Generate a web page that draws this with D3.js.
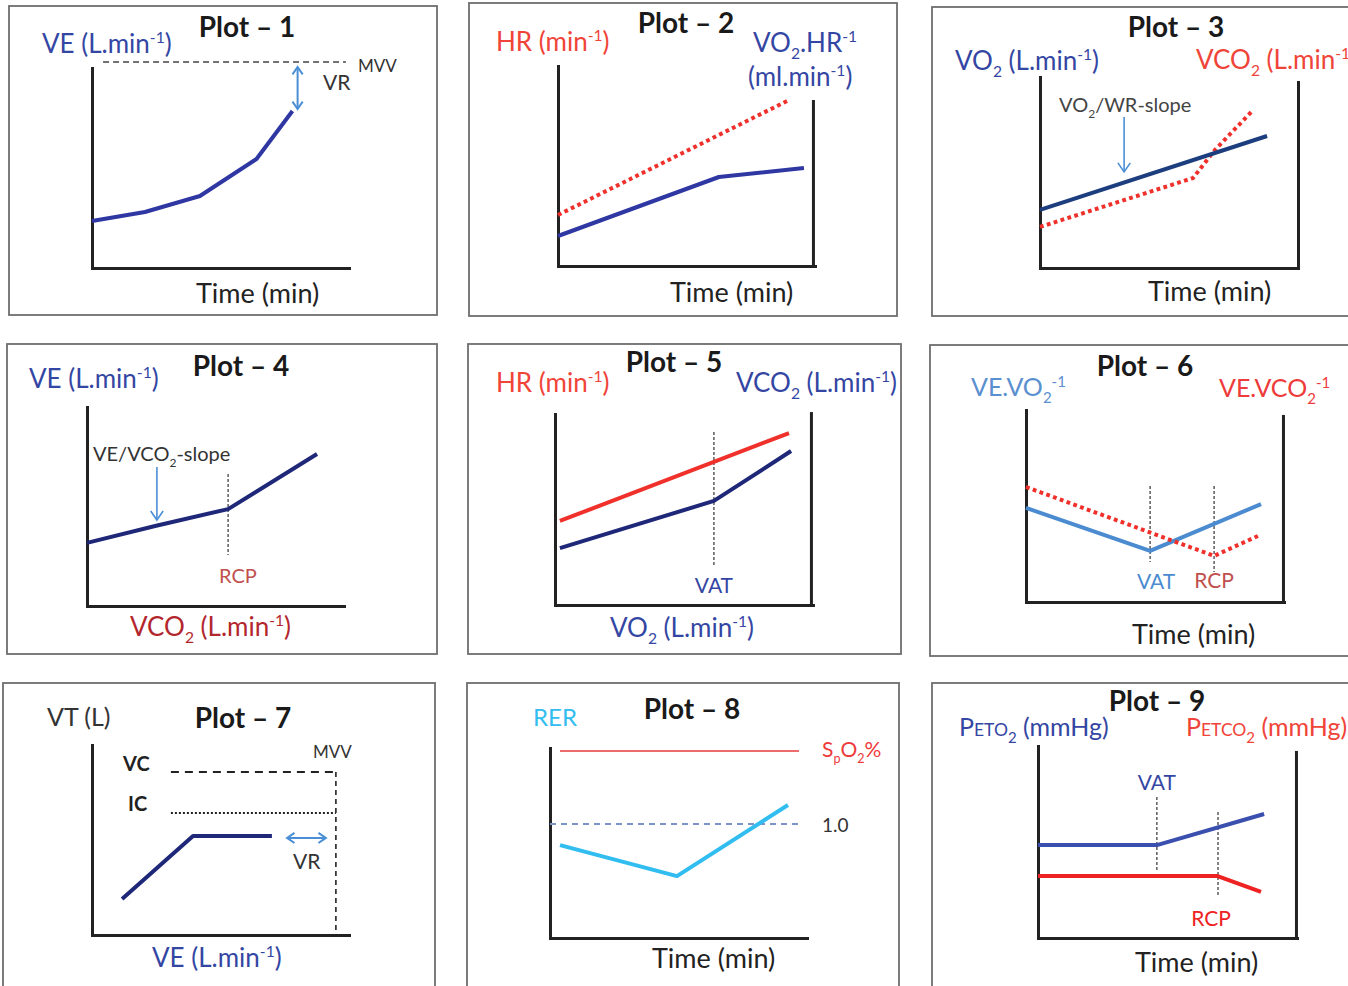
<!DOCTYPE html>
<html><head><meta charset="utf-8">
<script src="https://cdn.jsdelivr.net/npm/d3@7"></script>
<style>body{margin:0;background:#fff} svg{display:block}</style>
</head><body>
<svg id="c" width="1348" height="986"></svg>
<script>
// ---------------- DATA (schematic units 0-100 on each axis) ----------------
const titles = ["Plot \u2013 1","Plot \u2013 2","Plot \u2013 3","Plot \u2013 4","Plot \u2013 5","Plot \u2013 6","Plot \u2013 7","Plot \u2013 8","Plot \u2013 9"];
// Plot 1
const p1VE  = [[0,23.5],[20.6,28],[42,36],[64,54.5],[78,78.5]];
const p1MVV = [[4.3,103],[98.8,103]];
const p1VR  = [[80,100.5],[80,79.5]];
// Plot 2
const p2HR    = [[0,25.5],[89.9,83]];
const p2VO2HR = [[0,15],[62.6,44.5],[95.7,49]];
// Plot 3
const p3VO2  = [[0,30.4],[88,69.1]];
const p3VCO2 = [[0,21.5],[59.3,47.1],[67.8,61.8],[82.6,82.7]];
const p3Arrow = [[32.6,79],[32.6,50.3]];
// Plot 4
const p4VE    = [[0,31.7],[26.5,40.2],[54.9,48.7],[89.5,76.4]];
const p4RCP   = [[54.9,66.3],[54.9,25.6]];
const p4Arrow = [[27.2,69.8],[27.2,43.2]];
// Plot 5
const p5HR   = [[1.9,44],[90.7,90]];
const p5VCO2 = [[1.9,29.8],[61.6,54.5],[91.5,80.6]];
const p5VAT  = [[61.6,90.6],[61.6,20.9]];
// Plot 6
const p6VEVO2  = [[0,49],[48.1,26.6],[91.1,51]];
const p6VEVCO2 = [[0,59.9],[72.9,24],[89.9,34.4]];
const p6VAT = [[48.1,60.4],[48.1,20.8]];
const p6RCP = [[72.9,60.4],[72.9,15.6]];
// Plot 7
const p7VT  = [[11.7,18.9],[39.3,52.1],[70,52.1]];
const p7VC  = [[30.7,85.8],[94.9,85.8]];
const p7IC  = [[30.7,64.2],[94.9,64.2]];
const p7MVV = [[94.9,85.8],[94.9,0]];
const p7VR  = [[75.9,51.1],[91,51.1]];
// Plot 8
const p8SpO2 = [[3.9,98.4],[96.9,98.4]];
const p8One  = [[0,60],[98,60]];
const p8RER  = [[3.9,48.9],[49.4,32.6],[92.6,70]];
// Plot 9
const p9PETO2  = [[0,48.4],[45.9,48.4],[87.3,64.6]];
const p9PETCO2 = [[0,32.3],[69.1,32.3],[86.1,24]];
const p9VAT = [[45.9,73.4],[45.9,34.4]];
const p9RCP = [[69.5,65.6],[69.5,21.4]];

// ---------------- LAYOUT ----------------
const layout = [
  {frame:[9,6,437,315],    x0:92,  x1:349,  yTop:68,  yBot:268},
  {frame:[469,3,897,316],  x0:558, x1:815,  yTop:66,  yBot:266, right:[99.2,82.5]},
  {frame:[932,7,1360,316], x0:1040,x1:1298, yTop:77,  yBot:268, right:[100,97.4]},
  {frame:[7,344,437,654],  x0:87,  x1:344,  yTop:407, yBot:606},
  {frame:[468,344,901,654],x0:555, x1:813,  yTop:414, yBot:605, right:[99.2,100.5]},
  {frame:[930,345,1360,656],x0:1026,x1:1284,yTop:410, yBot:602, right:[99.6,96.9]},
  {frame:[3,683,435,1000], x0:92,  x1:349,  yTop:745, yBot:935},
  {frame:[467,683,899,1000],x0:550,x1:807,  yTop:748, yBot:938},
  {frame:[932,683,1360,1000],x0:1038,x1:1297,yTop:746,yBot:938, right:[99.6,96.9]}
];
const FONT = "Lato, 'Open Sans', sans-serif";
const C = {
  blue:"#2f37a3", navy:"#1f2878", dkblue:"#1d3e7e", lblue:"#4b8bd0", red:"#f0302a",
  labBlue:"#3446a3", labRed:"#f04438", rcp:"#c0504d", cyan:"#31bdf0", arrow:"#4a8fd6"
};
const LAB = 26, TIME = 27, TITLE = 28;

const svg = d3.select("#c").style("font-family", FONT);

function rich(g, x, y, str, o) {
  const size = o.size || LAB;
  const t = g.append("text").attr("x", x).attr("y", y)
    .attr("font-size", size).attr("fill", o.color || "#222")
    .attr("font-weight", o.weight || 400)
    .attr("text-anchor", o.anchor || "start");
  const parts = str.split(/(\^\{[^}]*\}|_\{[^}]*\}|~\{[^}]*\})/).filter(s => s.length);
  let shift = 0;
  parts.forEach(p => {
    let txt = p, fs = size, target = 0;
    if (p.startsWith("^{")) { txt = p.slice(2,-1); fs = size*0.6; target = -size*0.38; }
    else if (p.startsWith("_{")) { txt = p.slice(2,-1); fs = size*0.6; target = size*0.28; }
    else if (p.startsWith("~{")) { txt = p.slice(2,-1); fs = size*0.7; target = 0; }
    t.append("tspan").attr("dy", target - shift).attr("font-size", fs).text(txt);
    shift = target;
  });
  return t;
}

function makePanel(L, i) {
  const g = svg.append("g");
  const x = d3.scaleLinear([0,100],[L.x0, L.x1]);
  const y = d3.scaleLinear([0,100],[L.yBot, L.yTop]);
  const [l,t,r,b] = L.frame;
  g.append("rect").attr("x",l).attr("y",t).attr("width",r-l).attr("height",b-t)
    .attr("fill","none").attr("stroke","#6e6e6e").attr("stroke-width",1.8);
  const ax = g.append("g");
  ax.append("g").attr("transform",`translate(${L.x0},0)`)
    .call(d3.axisLeft(y).ticks(0).tickSizeOuter(0));
  ax.append("g").attr("transform",`translate(0,${L.yBot})`)
    .call(d3.axisBottom(x).ticks(0).tickSizeOuter(0));
  if (L.right) {
    const ry = d3.scaleLinear([0, L.right[1]], [L.yBot, y(L.right[1])]);
    ax.append("g").attr("transform",`translate(${x(L.right[0])},0)`)
      .call(d3.axisRight(ry).ticks(0).tickSizeOuter(0));
  }
  ax.selectAll(".domain").attr("stroke","#222").attr("stroke-width",3).attr("stroke-linecap","square");
  return {g, x, y};
}

function line(P, data, color, w, dash, cap) {
  const gen = d3.line().x(d => P.x(d[0])).y(d => P.y(d[1]));
  P.g.append("path").datum(data).attr("d", gen).attr("fill","none")
    .attr("stroke", color).attr("stroke-width", w)
    .attr("stroke-dasharray", dash || null)
    .attr("stroke-linejoin","round")
    .attr("stroke-linecap", cap || "butt");
}

function arrow(P, data, color, w, both, hl) {
  const a = [P.x(data[0][0]), P.y(data[0][1])], b = [P.x(data[1][0]), P.y(data[1][1])];
  P.g.append("line").attr("x1",a[0]).attr("y1",a[1]).attr("x2",b[0]).attr("y2",b[1])
    .attr("stroke",color).attr("stroke-width",w);
  const head = (tip, from) => {
    const ang = Math.atan2(tip[1]-from[1], tip[0]-from[0]);
    const s = 0.6;
    const p1 = [tip[0]-hl*Math.cos(ang-s), tip[1]-hl*Math.sin(ang-s)];
    const p2 = [tip[0]-hl*Math.cos(ang+s), tip[1]-hl*Math.sin(ang+s)];
    P.g.append("path").attr("d", d3.line()([p1, tip, p2])).attr("fill","none")
      .attr("stroke",color).attr("stroke-width",w).attr("stroke-linejoin","miter");
  };
  head(b, a);
  if (both) head(a, b);
}

const P = layout.map(makePanel);
const dotted = "3.8,3.4", vmark = "3,2";

// titles
const titlePos = [[247,37],[686,33],[1176,37],[241,376],[674,372],[1145,376],[243,728],[692,719],[1157,711]];
titles.forEach((s,i) => rich(P[i].g, titlePos[i][0], titlePos[i][1], s, {size:TITLE, weight:700, anchor:"middle", color:"#1a1a1a"}));

// ---- Plot 1
line(P[0], p1MVV, "#444", 1.5, "6,4");
line(P[0], p1VE, C.blue, 4);
arrow(P[0], p1VR, C.arrow, 2, true, 9);
rich(P[0].g, 42, 53, "VE (L.min^{-1})", {color:C.labBlue});
rich(P[0].g, 358, 72, "MVV", {size:17, color:"#333"});
rich(P[0].g, 323, 90, "VR", {size:21, color:"#333"});
rich(P[0].g, 196, 303, "Time (min)", {size:TIME});

// ---- Plot 2
line(P[1], p2HR, C.red, 4, dotted);
line(P[1], p2VO2HR, C.blue, 4);
rich(P[1].g, 496, 51, "HR (min^{-1})", {color:C.labRed});
rich(P[1].g, 753, 52, "VO_{2}.HR^{-1}", {color:C.labBlue});
rich(P[1].g, 748, 86, "(ml.min^{-1})", {color:C.labBlue});
rich(P[1].g, 670, 302, "Time (min)", {size:TIME});

// ---- Plot 3
line(P[2], p3VCO2, C.red, 4, dotted);
line(P[2], p3VO2, C.dkblue, 4);
arrow(P[2], p3Arrow, C.arrow, 1.6, false, 11);
rich(P[2].g, 955, 70, "VO_{2} (L.min^{-1})", {color:C.labBlue});
rich(P[2].g, 1196, 69, "VCO_{2} (L.min^{-1})", {color:C.labRed});
rich(P[2].g, 1059, 112, "VO_{2}/WR-slope", {size:20, color:"#444"});
rich(P[2].g, 1148, 301, "Time (min)", {size:TIME});

// ---- Plot 4
line(P[3], p4RCP, "#333", 1.2, vmark);
line(P[3], p4VE, C.navy, 4);
arrow(P[3], p4Arrow, C.arrow, 1.6, false, 11);
rich(P[3].g, 29, 388, "VE (L.min^{-1})", {color:C.labBlue});
rich(P[3].g, 93, 461, "VE/VCO_{2}-slope", {size:20, color:"#333"});
rich(P[3].g, 238, 583, "RCP", {size:20, color:C.rcp, anchor:"middle"});
rich(P[3].g, 130, 636, "VCO_{2} (L.min^{-1})", {color:"#b3262d"});

// ---- Plot 5
line(P[4], p5VAT, "#333", 1.2, vmark);
line(P[4], p5HR, C.red, 4);
line(P[4], p5VCO2, C.navy, 4);
rich(P[4].g, 496, 392, "HR (min^{-1})", {color:C.labRed});
rich(P[4].g, 736, 392, "VCO_{2} (L.min^{-1})", {color:C.labBlue});
rich(P[4].g, P[4].x(p5VAT[0][0]), 593, "VAT", {size:21, color:C.labBlue, anchor:"middle"});
rich(P[4].g, 610, 637, "VO_{2} (L.min^{-1})", {color:C.labBlue});

// ---- Plot 6
line(P[5], p6VAT, "#333", 1.2, vmark);
line(P[5], p6RCP, "#333", 1.2, vmark);
line(P[5], p6VEVO2, C.lblue, 4);
line(P[5], p6VEVCO2, C.red, 4, dotted);
rich(P[5].g, 971, 396, "VE.VO_{2}^{-1}", {size:25, color:"#5a8fd0"});
rich(P[5].g, 1219, 397, "VE.VCO_{2}^{-1}", {size:25, color:"#ee3b3b"});
rich(P[5].g, P[5].x(p6VAT[0][0]) + 6, 589, "VAT", {size:21, color:C.lblue, anchor:"middle"});
rich(P[5].g, P[5].x(p6RCP[0][0]), 588, "RCP", {size:21, color:C.rcp, anchor:"middle"});
rich(P[5].g, 1132, 644, "Time (min)", {size:TIME});

// ---- Plot 7
line(P[6], p7VC, "#222", 2, "8,6");
line(P[6], p7IC, "#222", 2, "2,2");
line(P[6], p7MVV, "#222", 1.6, "5,4");
line(P[6], p7VT, C.navy, 4);
arrow(P[6], p7VR, C.arrow, 2, true, 9);
rich(P[6].g, 47, 726, "VT (L)", {size:25, color:"#333"});
rich(P[6].g, 123, 771, "VC", {size:20, weight:700, color:"#222"});
rich(P[6].g, 128, 811, "IC", {size:20, weight:700, color:"#222"});
rich(P[6].g, 313, 758, "MVV", {size:17, color:"#333"});
rich(P[6].g, 293, 869, "VR", {size:21, color:"#333"});
rich(P[6].g, 152, 967, "VE (L.min^{-1})", {color:C.labBlue});

// ---- Plot 8
line(P[7], p8SpO2, "#e83a3a", 1.5);
line(P[7], p8One, "#7d93c8", 2, "6,5");
line(P[7], p8RER, C.cyan, 4);
rich(P[7].g, 533, 726, "RER", {size:24, color:C.cyan});
rich(P[7].g, 822, 757, "S_{p}O_{2}%", {size:21, color:"#ee3b3b"});
rich(P[7].g, 822, 832, "1.0", {size:19, color:"#333"});
rich(P[7].g, 652, 968, "Time (min)", {size:TIME});

// ---- Plot 9
line(P[8], p9VAT, "#333", 1.2, vmark);
line(P[8], p9RCP, "#333", 1.2, vmark);
line(P[8], p9PETO2, "#3a4fae", 4);
line(P[8], p9PETCO2, "#ee2222", 4);
rich(P[8].g, 959, 736, "P~{ETO}_{2} (mmHg)", {size:25, color:C.labBlue});
rich(P[8].g, 1186, 736, "P~{ETCO}_{2} (mmHg)", {size:25, color:C.labRed});
rich(P[8].g, P[8].x(p9VAT[0][0]), 790, "VAT", {size:21, color:C.labBlue, anchor:"middle"});
rich(P[8].g, P[8].x(p9RCP[0][0]) - 7, 926, "RCP", {size:21, color:"#ee2222", anchor:"middle"});
rich(P[8].g, 1135, 972, "Time (min)", {size:TIME});
</script>
</body></html>
